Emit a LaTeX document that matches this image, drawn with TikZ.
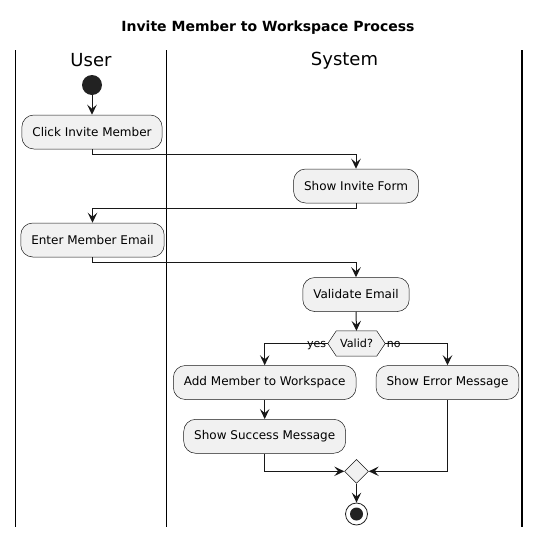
\documentclass[tikz,border=0pt]{standalone}
\usepackage{fontspec}
\setmainfont{DejaVu Sans}
\usetikzlibrary{arrows.meta,shapes.geometric}
\definecolor{boxfill}{HTML}{F1F1F1}
\definecolor{boxline}{HTML}{181818}
\definecolor{dotfill}{HTML}{222222}
\begin{document}
\begin{tikzpicture}[x=1pt,y=-1pt,
  act/.style={draw=boxline, line width=0.5pt, fill=boxfill, rounded corners=12pt,
    minimum height=34pt, inner xsep=10.5pt, inner ysep=0pt,
    font=\fontsize{12}{14}\selectfont},
  dia/.style={diamond, draw=boxline, line width=0.5pt, fill=boxfill, inner sep=0pt},
  hexbox/.style={rectangle, inner sep=0pt, minimum width=57pt, minimum height=25pt,
    font=\fontsize{11.2}{13}\selectfont},
  arr/.style={draw=boxline, line width=1pt, -{Stealth[length=10pt,width=9.5pt,inset=4pt]}},
  lane/.style={draw=black, line width=1.6pt},
  lanetitle/.style={font=\fontsize{18}{20}\selectfont},
  lbl/.style={font=\fontsize{11}{13}\selectfont, inner sep=0.5pt}]
\useasboundingbox (0,0) rectangle (541,536);
% title
\node[font=\bfseries\fontsize{14}{16}\selectfont] (title) at (268,28) {Invite Member to Workspace Process};
% lanes
\coordinate (l1t) at (15.5,50); \coordinate (l1b) at (15.5,526.5);
\coordinate (l2t) at (166.5,50); \coordinate (l2b) at (166.5,526.5);
\coordinate (l3t) at (522,50); \coordinate (l3b) at (522,526.5);
\draw[lane] (l1t) -- (l1b);
\draw[lane] (l2t) -- (l2b);
\draw[lane] (l3t) -- (l3b);
\node[lanetitle] (user) at (91,60.5) {User};
\node[lanetitle] (system) at (344.5,60.5) {System};
% nodes
\node[circle, fill=dotfill, minimum size=20pt, inner sep=0pt] (start) at (92,85) {};
\node[act] (click) at (92,132) {Click Invite Member};
\node[act] (form) at (356,186) {Show Invite Form};
\node[act] (enter) at (92.5,240) {Enter Member Email};
\node[act] (validate) at (356,294.5) {Validate Email};
\node[hexbox] (valid) at (356.5,343.5) {Valid?};
\fill[boxfill, draw=boxline, line width=0.5pt]
  (valid.west) -- ([xshift=8.5pt]valid.north west) -- ([xshift=-8.5pt]valid.north east)
  -- (valid.east) -- ([xshift=-8.5pt]valid.south east) -- ([xshift=8.5pt]valid.south west) -- cycle;
\node[hexbox] (validtxt) at (valid) {Valid?};
\node[act] (add) at (264.7,382.5) {Add Member to Workspace};
\node[act] (error) at (447.5,382.5) {Show Error Message};
\node[act] (success) at (264.7,436.3) {Show Success Message};
\node[dia, minimum width=24pt, minimum height=24pt] (merge) at (356.5,471.3) {};
\node[circle, draw=dotfill, line width=0.8pt, fill=white, minimum size=22pt, inner sep=0pt] (end) at (356.5,514) {};
\node[circle, fill=dotfill, minimum size=13pt, inner sep=0pt] (endin) at (end) {};
% connectors
\draw[arr] (start) -- (click.north);
\draw[arr] (click.south) -- ++(0,5.5) -| (form.north);
\draw[arr] (form.south) -- ++(0,5) -| (enter.north);
\draw[arr] (enter.south) -- ++(0,5) -| (validate.north);
\draw[arr] (validate.south) -- (valid.north);
\draw[arr] (valid.west) -| (add.north);
\draw[arr] (valid.east) -| (error.north);
\node[lbl, anchor=base east] (yes) at ([xshift=-1pt,yshift=-4pt]valid.west) {yes};
\node[lbl, anchor=base west] (no) at ([xshift=1pt,yshift=-4pt]valid.east) {no};
\draw[arr] (add.south) -- (success.north);
\draw[arr] (success.south) |- (merge.west);
\draw[arr] (error.south) |- (merge.east);
\draw[arr] (merge.south) -- (end.north);
\end{tikzpicture}
\end{document}
